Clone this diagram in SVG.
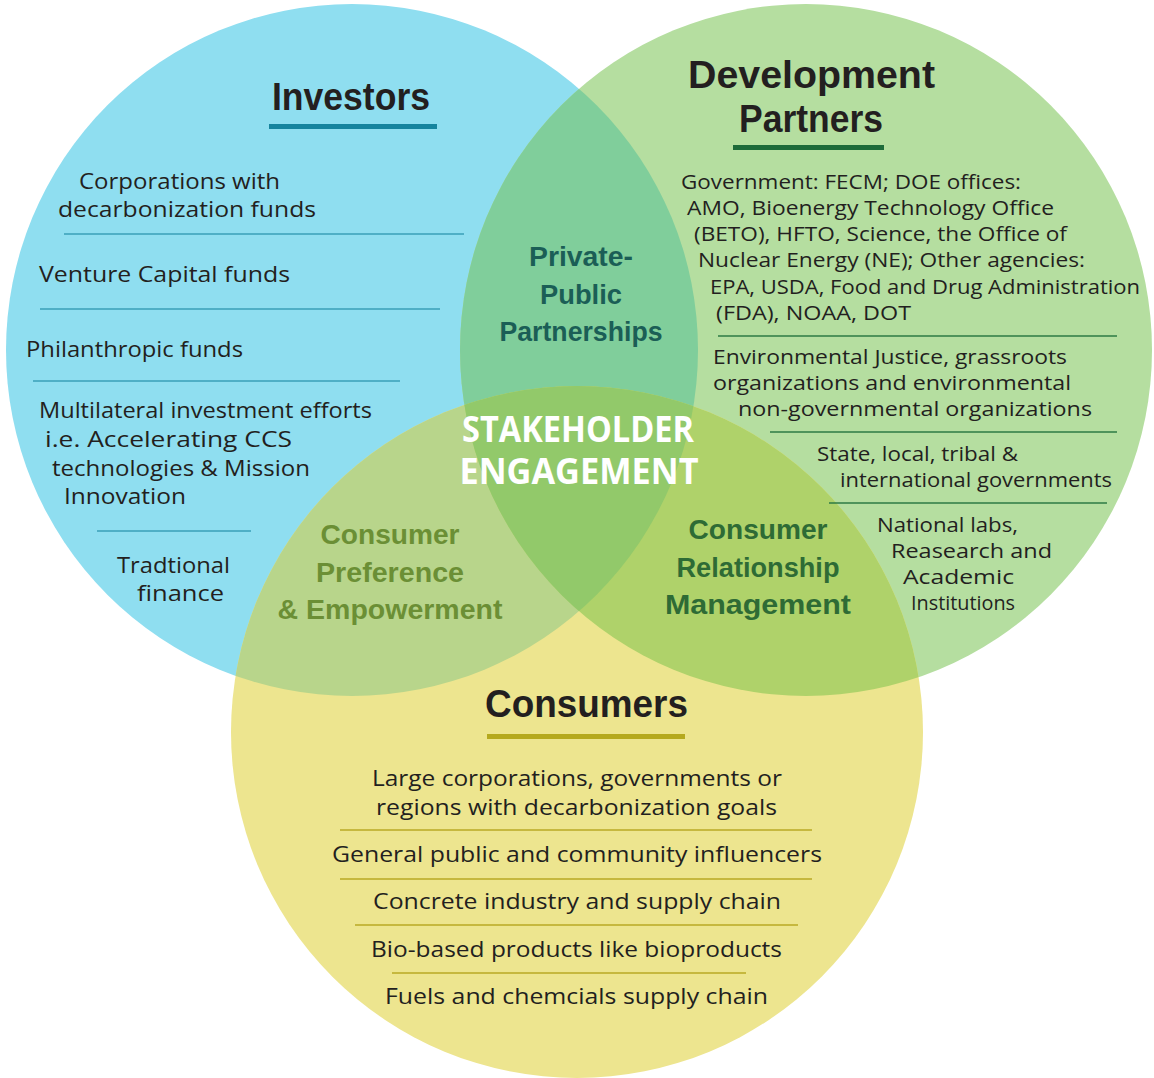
<svg xmlns="http://www.w3.org/2000/svg" width="1154" height="1078" viewBox="0 0 1154 1078">
<style>
.body{font-family:"Open Sans","DejaVu Sans",sans-serif;font-size:21px;fill:#231f20}
.dp{font-size:19.5px}
.head{font-family:"Liberation Sans","DejaVu Sans",sans-serif;font-weight:bold;font-size:38px;fill:#231f20}
.mid{font-family:"Liberation Sans","DejaVu Sans",sans-serif;font-weight:bold;font-size:27px;text-anchor:middle}
.core{font-family:"Open Sans","DejaVu Sans",sans-serif;font-weight:bold;font-size:35px;fill:#ffffff;text-anchor:middle}
.sepB{stroke:#3a9fb8;stroke-width:1.5}
.sepG{stroke:#2e7a45;stroke-width:1.5}
.sepY{stroke:#b8a825;stroke-width:1.5}
</style>
<defs>
<clipPath id="cB"><circle cx="352" cy="350" r="346"/></clipPath>
<clipPath id="cG"><circle cx="806" cy="350" r="346"/></clipPath>
</defs>
<rect width="1154" height="1078" fill="#ffffff"/>
<g id="circles">
<circle cx="352" cy="350" r="346" fill="#8fdef0"/>
<circle cx="806" cy="350" r="346" fill="#b5dea0"/>
<circle cx="577" cy="732" r="346" fill="#ede58f"/>
<circle cx="806" cy="350" r="346" fill="#80ce9b" clip-path="url(#cB)"/>
<circle cx="577" cy="732" r="346" fill="#b8d58b" clip-path="url(#cB)"/>
<circle cx="577" cy="732" r="346" fill="#afd26a" clip-path="url(#cG)"/>
<g clip-path="url(#cB)"><circle cx="577" cy="732" r="346" fill="#92c96a" clip-path="url(#cG)"/></g>
</g>
<g id="investors">
<text class="head" x="272" y="110" textLength="158" lengthAdjust="spacingAndGlyphs">Investors</text>
<rect x="269" y="124" width="168" height="5" fill="#16849e"/>
<text class="body" x="79" y="189" textLength="201" lengthAdjust="spacingAndGlyphs">Corporations with</text>
<text class="body" x="58" y="217" textLength="258" lengthAdjust="spacingAndGlyphs">decarbonization funds</text>
<line class="sepB" x1="64" y1="234" x2="464" y2="234"/>
<text class="body" x="39" y="282" textLength="251" lengthAdjust="spacingAndGlyphs">Venture Capital funds</text>
<line class="sepB" x1="40" y1="309" x2="440" y2="309"/>
<text class="body" x="26" y="357" textLength="217" lengthAdjust="spacingAndGlyphs">Philanthropic funds</text>
<line class="sepB" x1="33" y1="381" x2="400" y2="381"/>
<text class="body" x="39" y="418" textLength="333" lengthAdjust="spacingAndGlyphs">Multilateral investment efforts</text>
<text class="body" x="45" y="447" textLength="247" lengthAdjust="spacingAndGlyphs">i.e. Accelerating CCS</text>
<text class="body" x="52" y="476" textLength="258" lengthAdjust="spacingAndGlyphs">technologies &amp; Mission</text>
<text class="body" x="64" y="504" textLength="122" lengthAdjust="spacingAndGlyphs">Innovation</text>
<line class="sepB" x1="97" y1="531" x2="251" y2="531"/>
<text class="body" x="117" y="573" textLength="113" lengthAdjust="spacingAndGlyphs">Tradtional</text>
<text class="body" x="137" y="601" textLength="87" lengthAdjust="spacingAndGlyphs">finance</text>
</g>
<g id="development-partners">
<text class="head" x="688" y="88" textLength="247" lengthAdjust="spacingAndGlyphs">Development</text>
<text class="head" x="739" y="132" textLength="144" lengthAdjust="spacingAndGlyphs">Partners</text>
<rect x="733" y="145" width="151" height="5" fill="#1e6b3a"/>
<text class="body dp" x="681" y="189" textLength="340" lengthAdjust="spacingAndGlyphs">Government: FECM; DOE offices:</text>
<text class="body dp" x="687" y="215" textLength="367" lengthAdjust="spacingAndGlyphs">AMO, Bioenergy Technology Office</text>
<text class="body dp" x="694" y="241" textLength="373" lengthAdjust="spacingAndGlyphs">(BETO),  HFTO, Science, the Office of</text>
<text class="body dp" x="698" y="267" textLength="387" lengthAdjust="spacingAndGlyphs">Nuclear Energy (NE); Other agencies:</text>
<text class="body dp" x="710" y="294" textLength="430" lengthAdjust="spacingAndGlyphs">EPA, USDA, Food and Drug Administration</text>
<text class="body dp" x="716" y="320" textLength="195" lengthAdjust="spacingAndGlyphs">(FDA), NOAA, DOT</text>
<line class="sepG" x1="718" y1="336" x2="1117" y2="336"/>
<text class="body dp" x="713" y="364" textLength="354" lengthAdjust="spacingAndGlyphs">Environmental Justice, grassroots</text>
<text class="body dp" x="713" y="390" textLength="358" lengthAdjust="spacingAndGlyphs">organizations and environmental</text>
<text class="body dp" x="738" y="416" textLength="354" lengthAdjust="spacingAndGlyphs">non-governmental organizations</text>
<line class="sepG" x1="770" y1="432" x2="1117" y2="432"/>
<text class="body dp" x="817" y="461" textLength="201" lengthAdjust="spacingAndGlyphs">State, local, tribal &amp;</text>
<text class="body dp" x="840" y="487" textLength="272" lengthAdjust="spacingAndGlyphs">international governments</text>
<line class="sepG" x1="829" y1="503" x2="1107" y2="503"/>
<text class="body dp" x="877" y="532" textLength="141" lengthAdjust="spacingAndGlyphs">National labs,</text>
<text class="body dp" x="891" y="558" textLength="161" lengthAdjust="spacingAndGlyphs">Reasearch and</text>
<text class="body dp" x="903" y="584" textLength="111" lengthAdjust="spacingAndGlyphs">Academic</text>
<text class="body dp" x="911" y="610" textLength="104" lengthAdjust="spacingAndGlyphs">Institutions</text>
</g>
<g id="consumers">
<text class="head" x="485" y="717" textLength="203" lengthAdjust="spacingAndGlyphs">Consumers</text>
<rect x="487" y="734" width="198" height="5" fill="#b5a91e"/>
<text class="body" x="372" y="786" textLength="410" lengthAdjust="spacingAndGlyphs">Large corporations, governments or</text>
<text class="body" x="376" y="815" textLength="401" lengthAdjust="spacingAndGlyphs">regions with decarbonization goals</text>
<line class="sepY" x1="340" y1="830" x2="812" y2="830"/>
<text class="body" x="332" y="862" textLength="490" lengthAdjust="spacingAndGlyphs">General public and community influencers</text>
<line class="sepY" x1="340" y1="879" x2="812" y2="879"/>
<text class="body" x="373" y="909" textLength="408" lengthAdjust="spacingAndGlyphs">Concrete industry and supply chain</text>
<line class="sepY" x1="355" y1="925" x2="798" y2="925"/>
<text class="body" x="371" y="957" textLength="411" lengthAdjust="spacingAndGlyphs">Bio-based products like bioproducts</text>
<line class="sepY" x1="392" y1="973" x2="746" y2="973"/>
<text class="body" x="385" y="1004" textLength="383" lengthAdjust="spacingAndGlyphs">Fuels and chemcials supply chain</text>
</g>
<g id="private-public-partnerships">
<text class="mid" x="581" y="266" fill="#1b5e56" textLength="104" lengthAdjust="spacingAndGlyphs">Private-</text>
<text class="mid" x="581" y="304" fill="#1b5e56" textLength="82" lengthAdjust="spacingAndGlyphs">Public</text>
<text class="mid" x="581" y="341" fill="#1b5e56" textLength="163" lengthAdjust="spacingAndGlyphs">Partnerships</text>
</g>
<g id="stakeholder-engagement">
<text class="core" x="578" y="442" textLength="232" lengthAdjust="spacingAndGlyphs">STAKEHOLDER</text>
<text class="core" x="579" y="484" textLength="239" lengthAdjust="spacingAndGlyphs">ENGAGEMENT</text>
</g>
<g id="consumer-preference">
<text class="mid" x="390" y="544" fill="#6b8f35" textLength="139" lengthAdjust="spacingAndGlyphs">Consumer</text>
<text class="mid" x="390" y="582" fill="#6b8f35" textLength="148" lengthAdjust="spacingAndGlyphs">Preference</text>
<text class="mid" x="390" y="619" fill="#6b8f35" textLength="225" lengthAdjust="spacingAndGlyphs">&amp; Empowerment</text>
</g>
<g id="consumer-relationship">
<text class="mid" x="758" y="539" fill="#2e6b35" textLength="139" lengthAdjust="spacingAndGlyphs">Consumer</text>
<text class="mid" x="758" y="577" fill="#2e6b35" textLength="163" lengthAdjust="spacingAndGlyphs">Relationship</text>
<text class="mid" x="758" y="614" fill="#2e6b35" textLength="186" lengthAdjust="spacingAndGlyphs">Management</text>
</g>
<g id="connectors"></g>
</svg>
